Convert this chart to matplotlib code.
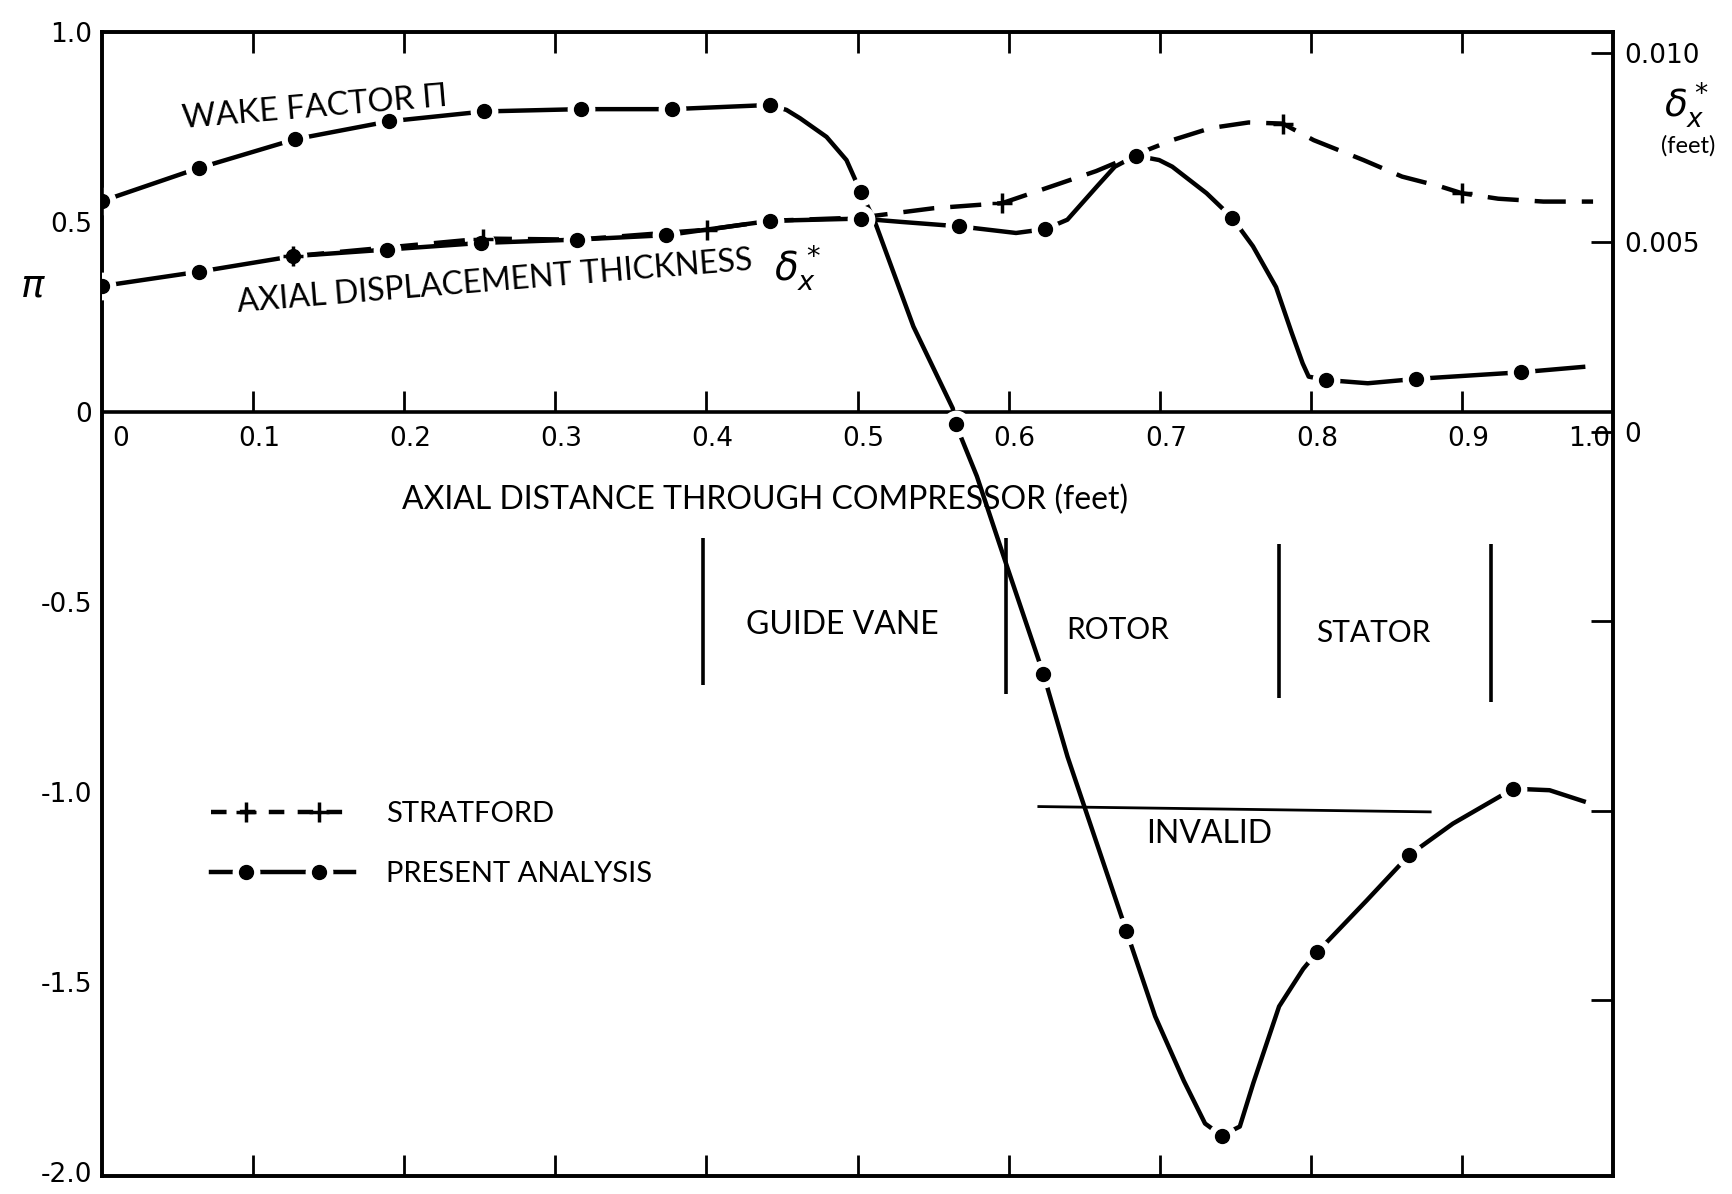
import matplotlib
matplotlib.use("Agg")
import matplotlib.pyplot as plt
from matplotlib.lines import Line2D
from matplotlib.legend_handler import HandlerLine2D, HandlerTuple

plt.rcParams['font.family'] = ['Lato', 'DejaVu Sans']

# wake factor pi (left axis)
wake_x = [0.000, 0.064, 0.128, 0.190, 0.253, 0.317, 0.377, 0.442, 0.453, 0.462, 0.4795, 0.4927,
          0.502, 0.511, 0.537, 0.563, 0.565, 0.579, 0.599, 0.623, 0.639, 0.678, 0.697, 0.716,
          0.730, 0.741, 0.753, 0.762, 0.779, 0.795, 0.804, 0.837, 0.865, 0.894, 0.934, 0.958, 0.982]
wake_y = [0.555, 0.642, 0.718, 0.765, 0.791, 0.797, 0.797, 0.808, 0.795, 0.773, 0.724, 0.663,
          0.580, 0.506, 0.225, 0.010, -0.032, -0.169, -0.407, -0.689, -0.907, -1.366, -1.590, -1.760,
          -1.872, -1.904, -1.880, -1.765, -1.564, -1.465, -1.422, -1.285, -1.166, -1.083, -0.991, -0.995, -1.026]
wake_marks = [0, 1, 2, 3, 4, 5, 6, 7, 12, 16, 19, 21, 25, 30, 32, 34]

# axial displacement thickness, present analysis (right axis, feet)
delta_x = [0.000, 0.0643, 0.1265, 0.1886, 0.2507, 0.3143, 0.3735, 0.4423, 0.5022, 0.5292, 0.5673,
           0.6049, 0.6243, 0.6389, 0.6590, 0.6703, 0.6842, 0.6996, 0.7083, 0.7310, 0.7478, 0.7617,
           0.7770, 0.7873, 0.7946, 0.7986, 0.8099, 0.8377, 0.8699, 0.9393, 0.9817]
delta_y = [0.003848, 0.004227, 0.004636, 0.004810, 0.004985, 0.005073, 0.005190, 0.005569, 0.005627,
           0.005539, 0.005423, 0.005248, 0.005350, 0.005598, 0.006500, 0.006997, 0.007289, 0.007172,
           0.006997, 0.006297, 0.005656, 0.004898, 0.003819, 0.002620, 0.001808, 0.001458, 0.001370,
           0.001283, 0.001399, 0.001574, 0.001720]
delta_marks = [0, 1, 2, 3, 4, 5, 6, 7, 8, 10, 12, 16, 20, 26, 28, 29]

# Stratford (right axis, feet)
strat_x = [0.1265, 0.2522, 0.3143, 0.4006, 0.4423, 0.5022, 0.5504, 0.5958, 0.6323, 0.6579, 0.6842,
           0.7083, 0.7339, 0.7588, 0.7814, 0.8019, 0.8348, 0.8604, 0.8860, 0.8999, 0.9240, 0.9539, 0.9868]
strat_y = [0.004636, 0.005100, 0.005073, 0.005335, 0.005569, 0.005656, 0.005901, 0.006035, 0.006531,
           0.006880, 0.007318, 0.007697, 0.008017, 0.008163, 0.008134, 0.007697, 0.007172, 0.006735,
           0.006472, 0.006297, 0.006152, 0.006076, 0.006076]
strat_marks = [0, 1, 3, 7, 14, 19]

x_ticks = [0.0, 0.1, 0.2, 0.3, 0.4, 0.5, 0.6, 0.7, 0.8, 0.9, 1.0]
x_labels = ['0', '0.1', '0.2', '0.3', '0.4', '0.5', '0.6', '0.7', '0.8', '0.9', '1.0']
pi_ticks = [-2.0, -1.5, -1.0, -0.5, 0.0, 0.5, 1.0]
pi_labels = ['-2.0', '-1.5', '-1.0', '-0.5', '0', '0.5', '1.0']
d_ticks = [-0.015, -0.010, -0.005, 0.0, 0.005, 0.010]
d_labels = ['', '', '', '0', '0.005', '0.010']

sections = ['GUIDE VANE', 'ROTOR', 'STATOR']
section_x = [0.490, 0.6725, 0.8414]
section_y = [-0.561, -0.573, -0.581]
section_size = [23, 21.5, 21.5]
divider_x = [0.3977, 0.598, 0.779, 0.919]
divider_top = [-0.331, -0.331, -0.346, -0.346]
divider_bot = [-0.718, -0.741, -0.753, -0.762]

NUM = {'family': 'DejaVu Sans', 'size': 19}
LW = 3.2
DOT = 10
HALO = 19

fig = plt.figure(figsize=(17.32, 11.94), dpi=100)
ax = fig.add_axes([0.0589, 0.0151, 0.8724, 0.9581])
ax.set_xlim(0, 1.0)
ax.set_ylim(-2.01, 1.0)
ax2 = ax.twinx()
ax2.set_ylim(-0.01963, 0.01055)

for a in (ax, ax2):
    for s in a.spines.values():
        s.set_linewidth(2.6)

# x ticks on top and bottom spines, no labels there
ax.set_xticks(x_ticks[1:-1])
ax.tick_params(axis='x', which='both', direction='in', top=True, bottom=True,
               length=15, width=2, labelbottom=False)
ax.set_yticks(pi_ticks)
ax.set_yticklabels(pi_labels, fontdict=NUM)
ax.set_yticks([0.5], minor=True)
ax.tick_params(axis='y', which='major', direction='in', length=0, pad=7)
ax.tick_params(axis='y', which='minor', direction='in', length=18, width=2)
ax2.set_yticks(d_ticks)
ax2.set_yticklabels(d_labels, fontdict=NUM)
ax2.tick_params(axis='y', direction='in', length=16, width=2, pad=8)

# distance axis drawn through pi = 0
ax.axhline(0, color='k', lw=2.6, zorder=1)
ax.vlines(x_ticks[1:-1], 0, 0.055, color='k', lw=2)
for xt, lab in zip(x_ticks, x_labels):
    off = 0.004
    if xt == 0.0:
        off = 0.012
    elif xt == 1.0:
        off = -0.016
    ax.text(xt + off, -0.07, lab, ha='center', va='center', fontdict=NUM)
ax.text(0.4386, -0.23, 'AXIAL DISTANCE THROUGH COMPRESSOR (feet)', ha='center', va='center', fontsize=23)

# present analysis: solid line broken round the dots
def present(a, x, y, marks):
    a.plot(x, y, color='k', lw=LW, zorder=2, solid_capstyle='butt', solid_joinstyle='round')
    a.plot([x[i] for i in marks], [y[i] for i in marks], ls='none', marker='o', ms=HALO,
           mfc='white', mec='white', zorder=3)
    a.plot([x[i] for i in marks], [y[i] for i in marks], ls='none', marker='o', ms=DOT,
           color='k', zorder=4)

ax2.plot(strat_x, strat_y, color='k', lw=LW, ls=(0, (7, 3.6)), zorder=2)
ax2.plot([strat_x[i] for i in strat_marks], [strat_y[i] for i in strat_marks], ls='none',
         marker='+', ms=14, mew=2.5, color='k', zorder=4)
present(ax, wake_x, wake_y, wake_marks)
present(ax2, delta_x, delta_y, delta_marks)

# curve labels
ax.text(0.0534, 0.747, 'WAKE FACTOR Π', rotation=4.8, rotation_mode='anchor',
        ha='left', va='baseline', fontsize=23.5)
ax.text(0.090, 0.262, 'AXIAL DISPLACEMENT THICKNESS', rotation=4.7, rotation_mode='anchor',
        ha='left', va='baseline', fontsize=23)
ax.text(0.4444, 0.378, r'$\delta_x^*$', fontsize=28, ha='left', va='center')

# compressor sections
ax.vlines(divider_x, divider_bot, divider_top, color='k', lw=2.6)
for name, sx, sy, fs in zip(sections, section_x, section_y, section_size):
    ax.text(sx, sy, name, ha='center', va='center', fontsize=fs)
ax.plot([0.620, 0.879], [-1.038, -1.052], color='k', lw=2)
ax.text(0.733, -1.11, 'INVALID', ha='center', va='center', fontsize=23)

# legend: dash lines run the full key, markers set inside
strat_line = Line2D([], [], color='k', lw=LW, ls=(0, (3.5, 3)))
strat_plus = Line2D([], [], ls='none', marker='+', ms=15, mew=2.5, color='k')
pa_line = Line2D([], [], color='k', lw=LW)
pa_halo = Line2D([], [], ls='none', marker='o', ms=HALO, mfc='white', mec='white')
pa_dot = Line2D([], [], ls='none', marker='o', ms=DOT, color='k')
inset = HandlerLine2D(marker_pad=1.2)
ax.legend([(strat_line, strat_plus), (pa_line, pa_halo, pa_dot)], ['STRATFORD', 'PRESENT ANALYSIS'],
          handler_map={Line2D: HandlerLine2D(marker_pad=0), strat_plus: inset,
                       pa_halo: inset, pa_dot: inset, tuple: HandlerTuple(ndivide=1)},
          numpoints=2, handlelength=4.9, handletextpad=1.1, labelspacing=1.15,
          frameon=False, fontsize=21, loc='center left', bbox_to_anchor=(0.0724, 0.290),
          borderpad=0, borderaxespad=0)

# axis names outside the frame
fig.text(0.0115, 0.761, r'$\pi$', fontsize=28, ha='left', va='center')
fig.text(0.9735, 0.912, r'$\delta_x^*$', fontsize=27, ha='center', va='center')
fig.text(0.9745, 0.878, '(feet)', fontsize=17, ha='center', va='center')

fig.savefig('out.png', dpi=100, facecolor='white')
